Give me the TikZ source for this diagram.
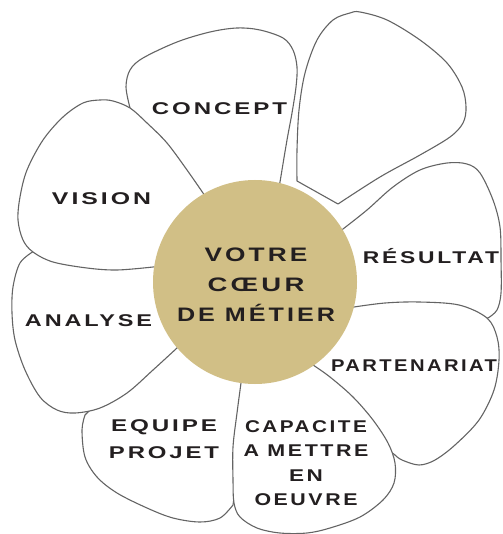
\documentclass[tikz,border=0pt]{standalone}
\usepackage{fontspec}
\usepackage{graphicx}
\newfontfamily\petalfont{Liberation Sans}[LetterSpace=12]
\newcommand\fitto[2]{\resizebox{#1pt}{\height}{#2}}
\definecolor{gold}{RGB}{209,191,134}
\definecolor{edge}{RGB}{100,100,100}
\definecolor{ink}{RGB}{35,31,32}
\tikzset{
  petal/.style={draw=edge,fill=white,line width=1.1pt,line join=round},
  lbl/.style={font=\petalfont\bfseries\fontsize{17}{26}\selectfont,text=ink,inner sep=0pt,anchor=base},
  lblm/.style={text=ink,inner sep=0pt,align=center},
}
\begin{document}
\begin{tikzpicture}[x=1pt,y=-1pt]
\useasboundingbox (0,0) rectangle (502,534);
% Equipe
\path[petal] (110,390) -- plot[smooth,tension=0.55] coordinates {(85,415)(82,430)(85,457)(97,477)(117,493)(147,508)(173,518)(200,522)(220,518)(233,505)} -- (238,470) -- (245,400) -- (245,360) -- (180,330) -- cycle;
% Resultat
\path[petal] (320,240) -- plot[smooth,tension=0.55] coordinates {(343,229)(367,210)(393,187)(420,170)(447,163)(467,164)(480,173)(493,200)(500,227)(501,260)(501,293)(497,310)(488,318)} -- (470,320) -- (340,315) -- cycle;
% Partenariat
\path[petal] (330,320) -- plot[smooth,tension=0.55] coordinates {(354,307)(385,303)(419,302)(459,305)(487,318)(497,337)(499,360)(494,390)(479,420)(455,445)(435,460)(419,465)(402,460)(395,455)} -- (375,440) -- (330,395) -- (280,360) -- cycle;
% Capacite
\path[petal] (270,350) -- plot[smooth,tension=0.55] coordinates {(241,383)(237,413)(233,447)(233,480)(234,503)(240,517)(257,528)(280,533)(307,533)(330,528)(360,517)(383,500)(394,483)(395,463)(388,443)(373,420)(353,397)(330,377)(313,365)} -- (300,340) -- cycle;
% Concept
\path[petal] (275,205) -- plot[smooth,tension=0.55] coordinates {(280,182)(287,140)(292,113)(296,87)(297,67)(293,50)(283,38)(260,30)(237,28)(210,32)(177,42)(143,58)(130,70)(126,87)(130,108)} -- (200,230) -- cycle;
% Analyse
\path[petal] (60,240) -- plot[smooth,tension=0.55] coordinates {(34,251)(20,263)(13,287)(12,313)(15,340)(25,370)(40,397)(57,410)(75,413)(100,408)(127,393)(153,370)(177,348)} -- (200,320) -- (170,262) -- cycle;
% Vision
\path[petal] (215,215) -- plot[smooth,tension=0.55] coordinates {(203,193)(187,170)(167,143)(147,123)(130,108)(113,101)(100,100)(83,103)(63,117)(43,140)(27,170)(20,197)(18,220)(23,240)(33,252)(53,262)(87,268)(117,270)(153,267)} -- (190,262) -- cycle;
% Empty petal
\path[petal] plot[smooth,tension=0.55] coordinates {(297,181)(297,150)(299,110)(305,73)(317,40)(333,20)(350,13)(360,12)(387,20)(420,40)(447,63)(462,87)(466,107)(463,123)(450,137)(420,155)(380,177)(338,204)} -- cycle;
% Core
\node[circle,fill=gold,minimum size=204pt,inner sep=0pt] (core) at (255,282) {};
\node[lblm,font=\petalfont\bfseries\fontsize{19.5}{30}\selectfont] (coretext) at (256,285) {\fitto{103}{VOTRE}\\\fitto{97}{CŒUR}\\\fitto{158}{DE MÉTIER}};
% Labels
\node[lbl] (concept) at (219.5,115) {\fitto{135}{CONCEPT}};
\node[lbl] (vision) at (101.5,205) {\fitto{99}{VISION}};
\node[lbl] (resultat) at (431,263) {\fitto{136}{RÉSULTAT}};
\node[lbl] (analyse) at (88.5,326) {\fitto{127}{ANALYSE}};
\node[lbl] (partenariat) at (414,371) {\fitto{166}{PARTENARIAT}};
\node[lblm,font=\petalfont\bfseries\fontsize{17}{26.6}\selectfont] (equipe) at (164,439) {\fitto{106}{EQUIPE}\\\fitto{110}{PROJET}};
\node[lblm,font=\petalfont\bfseries\fontsize{17}{24.3}\selectfont] (capacite) at (306,463) {\fitto{122}{CAPACITE}\\\fitto{125}{A METTRE}\\\fitto{34}{EN}\\\fitto{103}{OEUVRE}};
\end{tikzpicture}
\end{document}
